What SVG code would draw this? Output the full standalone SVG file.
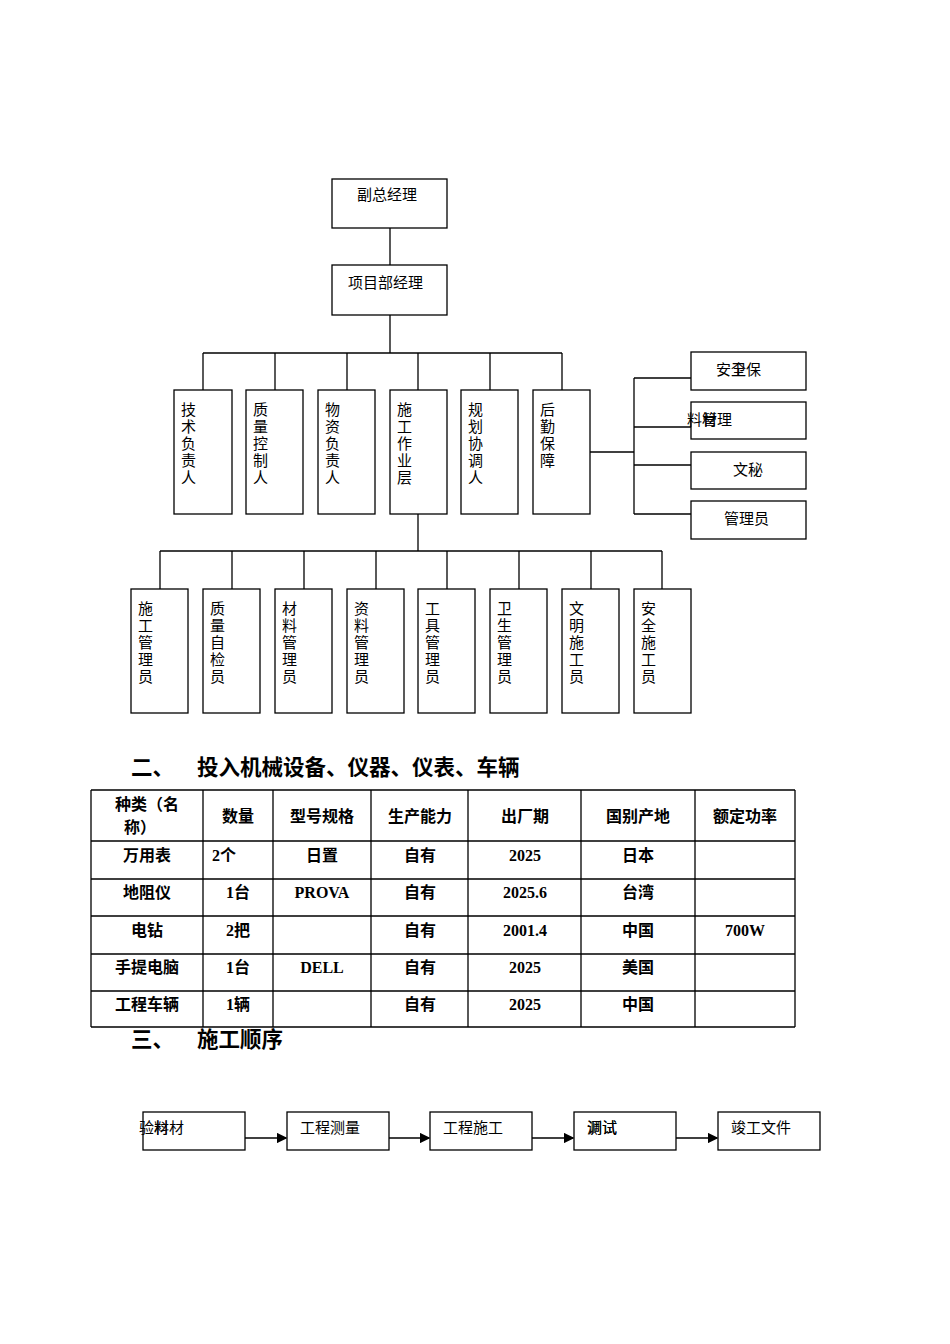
<svg xmlns="http://www.w3.org/2000/svg" width="950" height="1344" viewBox="0 0 950 1344">
<style>
rect{fill:#fff;stroke:#000;stroke-width:1.3}
line,path{stroke:#000;stroke-width:1.3;fill:none}
text{font-family:"Liberation Serif","Noto Sans CJK SC",serif;font-size:15px;fill:#000}
.b{font-weight:bold;font-size:16px}
.h{font-weight:bold;font-size:21.5px}
.c{text-anchor:middle}
</style>
<defs><marker id="a" markerWidth="8" markerHeight="8" refX="7" refY="4" orient="auto"><path d="M0,0L8,4L0,8z" style="fill:#000;stroke:none"/></marker></defs>
<rect width="950" height="1344" style="stroke:none"/>
<g id="connectors">
<line x1="390" y1="228" x2="390" y2="265"/><line x1="390" y1="315" x2="390" y2="353"/>
<line x1="203" y1="353" x2="562" y2="353"/>
<line x1="203" y1="353" x2="203" y2="390"/><line x1="275" y1="353" x2="275" y2="390"/><line x1="347" y1="353" x2="347" y2="390"/><line x1="418" y1="353" x2="418" y2="390"/><line x1="490" y1="353" x2="490" y2="390"/><line x1="562" y1="353" x2="562" y2="390"/>
<line x1="590" y1="452" x2="634" y2="452"/><line x1="634" y1="378" x2="634" y2="514"/>
<line x1="634" y1="378" x2="691" y2="378"/><line x1="634" y1="427" x2="691" y2="427"/><line x1="634" y1="465" x2="691" y2="465"/><line x1="634" y1="514" x2="691" y2="514"/>
<line x1="418" y1="514" x2="418" y2="551"/><line x1="160" y1="551" x2="662" y2="551"/>
<line x1="160" y1="551" x2="160" y2="589"/><line x1="232" y1="551" x2="232" y2="589"/><line x1="304" y1="551" x2="304" y2="589"/><line x1="376" y1="551" x2="376" y2="589"/><line x1="447" y1="551" x2="447" y2="589"/><line x1="519" y1="551" x2="519" y2="589"/><line x1="591" y1="551" x2="591" y2="589"/><line x1="662" y1="551" x2="662" y2="589"/>
<line x1="245" y1="1138" x2="286" y2="1138" marker-end="url(#a)"/>
<line x1="389" y1="1138" x2="429" y2="1138" marker-end="url(#a)"/>
<line x1="532" y1="1138" x2="573" y2="1138" marker-end="url(#a)"/>
<line x1="676" y1="1138" x2="717" y2="1138" marker-end="url(#a)"/>
</g>
<g id="n1"><rect x="332" y="179" width="115" height="49"/><text x="357" y="200">副总经理</text></g>
<g id="n2"><rect x="332" y="265" width="115" height="50"/><text x="348" y="288">项目部经理</text></g>
<g id="m1"><rect x="174" y="390" width="58" height="124"/><text x="181" y="415">技</text><text x="181" y="432">术</text><text x="181" y="449">负</text><text x="181" y="466">责</text><text x="181" y="483">人</text></g>
<g id="m2"><rect x="246" y="390" width="57" height="124"/><text x="253" y="415">质</text><text x="253" y="432">量</text><text x="253" y="449">控</text><text x="253" y="466">制</text><text x="253" y="483">人</text></g>
<g id="m3"><rect x="318" y="390" width="57" height="124"/><text x="325" y="415">物</text><text x="325" y="432">资</text><text x="325" y="449">负</text><text x="325" y="466">责</text><text x="325" y="483">人</text></g>
<g id="m4"><rect x="390" y="390" width="57" height="124"/><text x="397" y="415">施</text><text x="397" y="432">工</text><text x="397" y="449">作</text><text x="397" y="466">业</text><text x="397" y="483">层</text></g>
<g id="m5"><rect x="461" y="390" width="57" height="124"/><text x="468" y="415">规</text><text x="468" y="432">划</text><text x="468" y="449">协</text><text x="468" y="466">调</text><text x="468" y="483">人</text></g>
<g id="m6"><rect x="533" y="390" width="57" height="124"/><text x="540" y="415">后</text><text x="540" y="432">勤</text><text x="540" y="449">保</text><text x="540" y="466">障</text></g>
<g id="r1"><rect x="691" y="352" width="115" height="38"/><text x="716" y="375">安全保</text><text x="731" y="375">卫</text></g>
<g id="r2"><rect x="691" y="402" width="115" height="37"/><text x="687" y="425">料管理</text><text x="702" y="425">材</text></g>
<g id="r3"><rect x="691" y="452" width="115" height="37"/><text x="733" y="475">文秘</text></g>
<g id="r4"><rect x="691" y="501" width="115" height="38"/><text x="724" y="524">管理员</text></g>
<g id="s1"><rect x="131" y="589" width="57" height="124"/><text x="138" y="614">施</text><text x="138" y="631">工</text><text x="138" y="648">管</text><text x="138" y="665">理</text><text x="138" y="682">员</text></g>
<g id="s2"><rect x="203" y="589" width="57" height="124"/><text x="210" y="614">质</text><text x="210" y="631">量</text><text x="210" y="648">自</text><text x="210" y="665">检</text><text x="210" y="682">员</text></g>
<g id="s3"><rect x="275" y="589" width="57" height="124"/><text x="282" y="614">材</text><text x="282" y="631">料</text><text x="282" y="648">管</text><text x="282" y="665">理</text><text x="282" y="682">员</text></g>
<g id="s4"><rect x="347" y="589" width="57" height="124"/><text x="354" y="614">资</text><text x="354" y="631">料</text><text x="354" y="648">管</text><text x="354" y="665">理</text><text x="354" y="682">员</text></g>
<g id="s5"><rect x="418" y="589" width="57" height="124"/><text x="425" y="614">工</text><text x="425" y="631">具</text><text x="425" y="648">管</text><text x="425" y="665">理</text><text x="425" y="682">员</text></g>
<g id="s6"><rect x="490" y="589" width="57" height="124"/><text x="497" y="614">卫</text><text x="497" y="631">生</text><text x="497" y="648">管</text><text x="497" y="665">理</text><text x="497" y="682">员</text></g>
<g id="s7"><rect x="562" y="589" width="57" height="124"/><text x="569" y="614">文</text><text x="569" y="631">明</text><text x="569" y="648">施</text><text x="569" y="665">工</text><text x="569" y="682">员</text></g>
<g id="s8"><rect x="634" y="589" width="57" height="124"/><text x="641" y="614">安</text><text x="641" y="631">全</text><text x="641" y="648">施</text><text x="641" y="665">工</text><text x="641" y="682">员</text></g>
<text class="h" x="131" y="775">二、</text><text class="h" x="197" y="775">投入机械设备、仪器、仪表、车辆</text>
<g id="table">
<path d="M91,790H795M91,841H795M91,879H795M91,916H795M91,954H795M91,991H795M91,1027H795M91,790V1027M203,790V1027M273,790V1027M371,790V1027M468,790V1027M581,790V1027M695,790V1027M795,790V1027"/>
<text class="b c" x="147" y="810">种类（名</text><text class="b c" x="140" y="833">称）</text>
<text class="b c" x="238" y="822">数量</text><text class="b c" x="322" y="822">型号规格</text><text class="b c" x="420" y="822">生产能力</text><text class="b c" x="525" y="822">出厂期</text><text class="b c" x="638" y="822">国别产地</text><text class="b c" x="745" y="822">额定功率</text>
<text class="b c" x="147" y="861">万用表</text><text class="b" x="212" y="861">2个</text><text class="b c" x="322" y="861">日置</text><text class="b c" x="420" y="861">自有</text><text class="b c" x="525" y="861">2025</text><text class="b c" x="638" y="861">日本</text>
<text class="b c" x="147" y="898">地阻仪</text><text class="b c" x="238" y="898">1台</text><text class="b c" x="322" y="898">PROVA</text><text class="b c" x="420" y="898">自有</text><text class="b c" x="525" y="898">2025.6</text><text class="b c" x="638" y="898">台湾</text>
<text class="b c" x="147" y="936">电钻</text><text class="b c" x="238" y="936">2把</text><text class="b c" x="420" y="936">自有</text><text class="b c" x="525" y="936">2001.4</text><text class="b c" x="638" y="936">中国</text><text class="b c" x="745" y="936">700W</text>
<text class="b c" x="147" y="973">手提电脑</text><text class="b c" x="238" y="973">1台</text><text class="b c" x="322" y="973">DELL</text><text class="b c" x="420" y="973">自有</text><text class="b c" x="525" y="973">2025</text><text class="b c" x="638" y="973">美国</text>
<text class="b c" x="147" y="1010">工程车辆</text><text class="b c" x="238" y="1010">1辆</text><text class="b c" x="420" y="1010">自有</text><text class="b c" x="525" y="1010">2025</text><text class="b c" x="638" y="1010">中国</text>
</g>
<text class="h" x="131" y="1047">三、</text><text class="h" x="197" y="1047">施工顺序</text>
<g id="f1"><rect x="143" y="1112" width="102" height="38"/><text x="139" y="1133">验材材</text><text x="154" y="1133">料</text></g>
<g id="f2"><rect x="287" y="1112" width="102" height="38"/><text x="300" y="1133">工程测量</text></g>
<g id="f3"><rect x="430" y="1112" width="102" height="38"/><text x="443" y="1133">工程施工</text></g>
<g id="f4"><rect x="574" y="1112" width="102" height="38"/><text x="587" y="1133">调试</text><text x="587" y="1133">测试</text></g>
<g id="f5"><rect x="718" y="1112" width="102" height="38"/><text x="731" y="1133">竣工文件</text></g>
</svg>
